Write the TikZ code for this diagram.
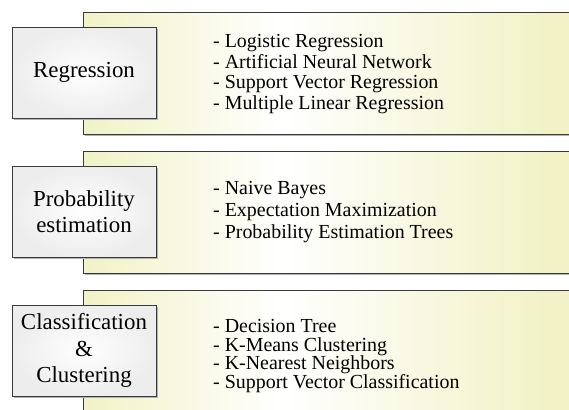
\documentclass[tikz,border=0pt]{standalone}
\usepackage{fontspec}
\setmainfont{Liberation Serif}
\definecolor{paneyel}{RGB}{242,242,198}
\definecolor{edgegray}{RGB}{58,58,58}
\pgfdeclarehorizontalshading{panelshade}{100bp}{color(0bp)=(paneyel); color(25bp)=(paneyel); color(45bp)=(white); color(72bp)=(paneyel); color(100bp)=(paneyel)}
\begin{document}
\begin{tikzpicture}[x=1bp,y=-1bp,
  catbox/.style={draw=edgegray, line width=1pt, inner color=white, outer color=black!7,
    minimum width=144bp, minimum height=91bp, align=center, inner sep=0pt,
    font=\fontsize{23}{26.5}\selectfont},
  listtext/.style={anchor=west, align=left, inner sep=0pt},
  panelline/.style={draw=edgegray, line width=1pt},
  shadowline/.style={draw=black!30, line width=1pt}]
\useasboundingbox (0,0) rectangle (569,409);
\clip (0,0) rectangle (569,409);
\fill[white] (0,0) rectangle (569,409);
\foreach \y in {12,151,290}{
  \shade[shading=panelshade] (83,\y) rectangle (580,{\y+122});
  \draw[shadowline] (84.5,{\y+123.5}) -- (580,{\y+123.5});
  \draw[panelline] (580,\y) -- (83,\y) -- (83,{\y+122}) -- (580,{\y+122});
  \draw[shadowline] (157.5,{\y+16.5}) -- (157.5,{\y+107.5}) -- (13.5,{\y+107.5});
}
\node[catbox] (reg) at (84,72.5) {Regression};
\node[catbox] (prob) at (84,211.5) {Probability\\estimation};
\node[catbox] (cls) at (84,350.5) {Classification\\\&\\Clustering};
\node[listtext, font=\fontsize{20}{20.7}\selectfont] (reglist) at (213,74) {- Logistic Regression\\- Artificial Neural Network\\- Support Vector Regression\\- Multiple Linear Regression};
\node[listtext, font=\fontsize{20}{22}\selectfont] (problist) at (213,212) {- Naive Bayes\\- Expectation Maximization\\- Probability Estimation Trees};
\node[listtext, font=\fontsize{20}{19}\selectfont] (clslist) at (213,356) {- Decision Tree\\- K-Means Clustering\\- K-Nearest Neighbors\\- Support Vector Classification};
\end{tikzpicture}
\end{document}
